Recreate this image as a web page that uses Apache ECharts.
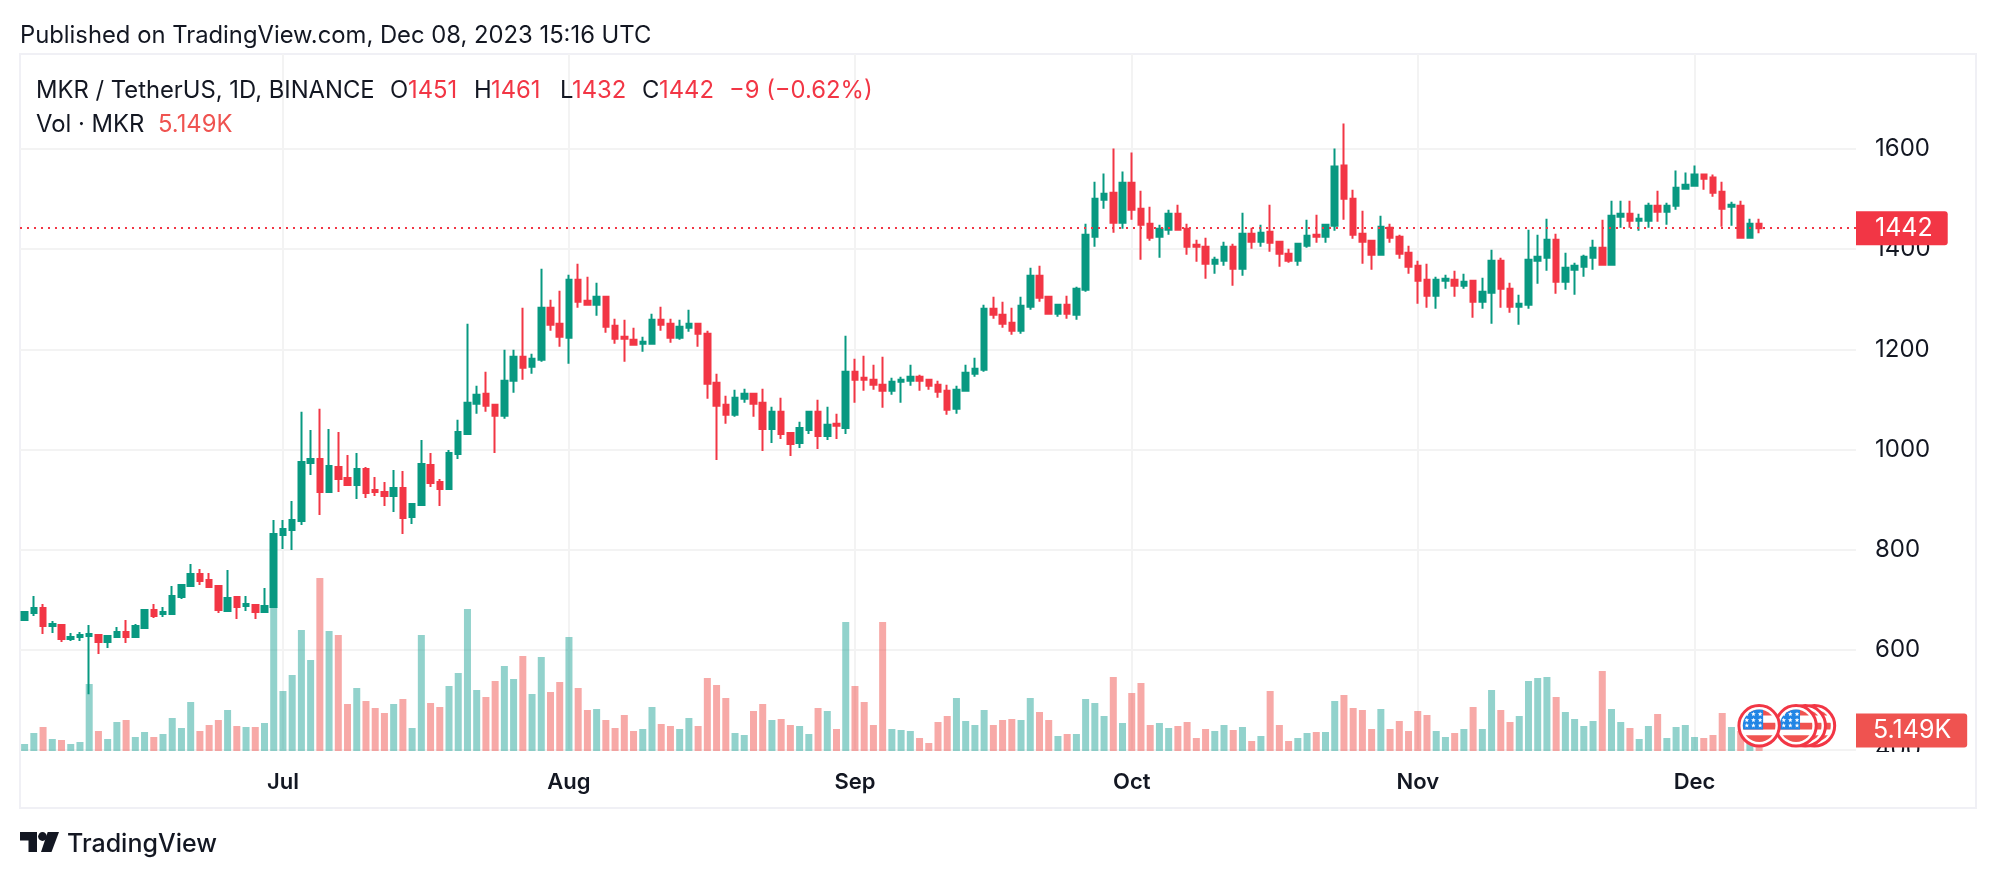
<!DOCTYPE html>
<html>
<head>
<meta charset="utf-8">
<title>MKR / TetherUS</title>
<script src="https://cdn.jsdelivr.net/npm/echarts@6/dist/echarts.min.js"></script>
<style>
  html, body { margin: 0; padding: 0; background: #fff; }
  #chart { width: 1996px; height: 878px; }
</style>
</head>
<body>
<div id="chart"></div>
<script>
// daily candles, Jun 3 -> Dec 8 2023
var opens = [
  659,673,683,647,649,621,625,627,629,615, 625,635,625,643,679,671,671,705,727,751,
  739,727,677,705,687,689,675,685,829,839, 857,973,981,915,965,943,929,961,919,915,
  907,923,865,889,969,935,921,991,1031,1091, 1111,1089,1067,1137,1185,1165,1179,1283,1251,1223,
  1339,1297,1289,1305,1247,1225,1219,1211,1211,1259, 1251,1223,1243,1251,1231,1133,1089,1069,1101,1111,
  1093,1041,1075,1033,1013,1039,1075,1027,1051,1043, 1155,1143,1139,1129,1117,1135,1137,1145,1139,1129,
  1117,1081,1117,1151,1159,1281,1269,1253,1237,1285, 1347,1305,1271,1289,1269,1319,1425,1499,1513,1453,
  1533,1481,1451,1425,1439,1471,1441,1409,1405,1371, 1377,1405,1361,1431,1415,1435,1415,1391,1377,1407,
  1429,1425,1447,1567,1501,1431,1417,1389,1443,1425, 1393,1367,1339,1307,1337,1339,1327,1337,1295,1313,
  1377,1321,1285,1289,1377,1383,1419,1335,1359,1365, 1383,1403,1369,1465,1471,1457,1457,1487,1475,1487,
  1521,1527,1549,1543,1515,1485,1487,1423,1451
];
var closes = [
  675,683,647,651,621,625,629,631,615,627, 635,625,647,679,667,675,707,729,751,737,
  725,679,703,685,691,675,687,831,841,859, 975,981,915,967,941,929,961,913,915,907,
  923,863,891,971,933,921,993,1035,1093,1109, 1087,1067,1137,1185,1163,1181,1283,1249,1225,1339,
  1295,1289,1305,1245,1221,1221,1209,1215,1259,1249, 1223,1245,1251,1231,1131,1087,1069,1103,1111,1091,
  1041,1075,1031,1011,1043,1075,1027,1049,1047,1155, 1139,1139,1129,1117,1135,1139,1145,1137,1127,1115,
  1079,1119,1153,1161,1281,1269,1251,1237,1287,1347, 1303,1271,1289,1271,1321,1429,1501,1511,1453,1533,
  1479,1449,1423,1441,1471,1439,1405,1405,1371,1379, 1405,1361,1431,1415,1433,1413,1391,1377,1411,1427,
  1425,1449,1565,1501,1429,1415,1389,1445,1423,1391, 1365,1337,1307,1339,1341,1327,1335,1295,1315,1377,
  1321,1285,1291,1379,1385,1419,1335,1363,1367,1385, 1403,1369,1467,1471,1457,1461,1487,1475,1487,1523,
  1529,1549,1541,1513,1481,1489,1423,1451,1442
];
var lows = [
  657,667,631,633,615,617,617,511,591,603, 625,613,625,643,663,665,669,701,725,729,
  723,673,677,661,677,661,673,683,801,799, 849,949,869,913,915,927,901,903,907,887,
  875,831,851,889,925,887,921,981,1031,1071, 1075,993,1061,1113,1139,1151,1175,1237,1205,1171,
  1283,1287,1267,1233,1211,1175,1209,1195,1209,1237, 1213,1219,1235,1205,1101,979,1051,1065,1093,1065,
  997,1013,1021,987,1003,1031,1001,1019,1021,1031, 1093,1117,1119,1083,1109,1093,1127,1117,1119,1103,
  1069,1071,1115,1145,1155,1261,1243,1229,1231,1279, 1295,1269,1265,1261,1259,1315,1405,1481,1433,1441,
  1459,1379,1417,1383,1429,1437,1389,1375,1341,1351, 1367,1327,1347,1401,1405,1395,1365,1373,1367,1403,
  1413,1413,1437,1459,1421,1371,1359,1389,1413,1381, 1351,1291,1283,1281,1321,1305,1321,1263,1281,1251,
  1283,1273,1249,1281,1331,1357,1311,1319,1309,1345, 1359,1369,1367,1443,1443,1437,1443,1455,1449,1479,
  1519,1525,1519,1505,1445,1447,1421,1421,1432
];
var highs = [
  677,707,691,657,649,633,635,649,629,629, 645,659,651,681,691,685,727,731,771,761,
  753,727,759,707,707,689,723,859,859,897, 1075,1039,1081,1041,1035,989,993,965,945,935,
  959,957,891,1019,993,941,999,1059,1251,1127, 1155,1089,1199,1199,1283,1191,1361,1299,1317,1349,
  1371,1345,1333,1307,1261,1259,1243,1225,1271,1285, 1261,1259,1279,1251,1237,1151,1107,1119,1121,1111,
  1121,1085,1103,1033,1055,1077,1099,1085,1071,1227, 1181,1187,1169,1185,1143,1145,1169,1149,1141,1137,
  1129,1127,1169,1183,1289,1305,1295,1283,1305,1363, 1367,1307,1291,1307,1325,1451,1535,1551,1601,1555,
  1593,1517,1485,1449,1479,1489,1451,1419,1423,1385, 1415,1411,1473,1443,1449,1489,1415,1401,1411,1459,
  1469,1451,1601,1651,1519,1477,1417,1467,1451,1429, 1407,1377,1371,1345,1349,1357,1351,1339,1343,1399,
  1383,1333,1309,1439,1429,1461,1431,1393,1373,1389, 1419,1459,1497,1497,1497,1471,1493,1517,1493,1557,
  1553,1567,1549,1549,1535,1495,1497,1461,1461
];
// volume in thousands of MKR
var volumes = [
  1.75,4.5,6,3,2.75,1.75,2.25,16.75,5,3, 7.25,7.75,3.5,4.75,3.5,4.25,8.25,5.75,12.25,5,
  6.5,7.75,10.25,6.25,6,6,7,36,15,19, 30.25,22.75,43.25,30,29,11.75,15.75,12.5,10.75,9.5,
  11.75,13,5.75,29,12,11,16.25,19.5,35.5,15.25, 13.5,17.5,21.25,18,23.75,14.25,23.5,14.75,17.25,28.5,
  15.75,10.25,10.5,7.75,5.75,9,5,5.5,11,6.75, 6.25,5.5,8.25,6.25,18.25,16.5,13.25,4.5,4,10,
  11.75,7.75,8,6.5,6.25,4.25,10.75,10,5.5,32.25, 16.25,12.25,6.5,32.25,5.5,5.25,5,3.25,2,7.25,
  8.75,13.25,7.5,6.5,10.25,6.5,7.75,8,7.75,13.25, 9.75,7.75,3.75,4.25,4.25,13,12,8.75,18.5,7,
  14.5,17,6.5,7,5.75,6.25,7.25,3.25,5.5,5, 6.5,5.25,6,2.5,3.75,15,6.5,2.5,3.25,4.5,
  4.75,4.75,12.5,14,10.75,10.25,5.5,10.5,5.5,7.5, 5,10,9,5,3.5,4.5,5.5,11,5.5,15.25,
  10.25,7.25,8.75,17.5,18.25,18.5,13.5,9.75,8,6.25, 7.5,20,10.5,7.25,5.75,3,6.25,9.25,3.25,6,
  6.5,3.5,3.25,4,9.5,6,5,2.5,5.149
];
var monthStarts = [28, 59, 90, 120, 151, 181];
var monthLabels = ['Jul', 'Aug', 'Sep', 'Oct', 'Nov', 'Dec'];
var priceTicks = { min: 400, step: 200 };
var lastPrice = 1442;
var lastVolume = 5.149;
var eventDays = [194, 193, 192, 188]; // back to front

var upColor = '#089981', downColor = '#F23645';
var upVol = 'rgba(38,166,154,0.5)', downVol = 'rgba(239,83,80,0.5)';
var gridColor = '#f3f3f3', frameColor = '#f0f0f5', textColor = '#131722';
var fontName = 'Inter, "Noto Sans", sans-serif';

// 199 slots: the traded days plus the empty stretch on the right
var categories = [];
for (var d = 0; d < 199; d++) {
  categories.push(new Date(Date.UTC(2023, 5, 3 + d)).toISOString().slice(0, 10));
}
var candles = opens.map(function (o, i) { return [o, closes[i], lows[i], highs[i]]; });

// legend text, placed piece by piece
var legendRow1 = [
  ['MKR / TetherUS, 1D, BINANCE', 36, textColor], ['O', 390, textColor], ['1451', 408, downColor],
  ['H', 474, textColor], ['1461', 491, downColor], ['L', 560, textColor], ['1432', 572, downColor],
  ['C', 642, textColor], ['1442', 659, downColor], ['\u22129 (\u22120.62%)', 729, downColor]
];
var legendRow2 = [['Vol \u00b7 MKR', 36, textColor], ['5.149K', 158, '#EF5350']];

function label(text, x, y, color, size, weight) {
  return {
    type: 'text', silent: true, z: 6,
    style: { x: x, y: y, text: text, fill: color, font: (weight || 400) + ' ' + size + 'px ' + fontName, verticalAlign: 'middle', align: 'left' }
  };
}

var graphics = [
  { type: 'rect', silent: true, z: -1, shape: { x: 20, y: 54, width: 1956, height: 754 }, style: { fill: 'none', stroke: frameColor, lineWidth: 2 } },
  // hides what would stick out under the pane of the half covered 400 label
  { type: 'rect', silent: true, z: 1, shape: { x: 1858, y: 752, width: 110, height: 20 }, style: { fill: '#fff' } },
  label('Published on TradingView.com, Dec 08, 2023 15:16 UTC', 20, 36, textColor, 23.8),
  label('TradingView', 67, 844, textColor, 25, 500),
  // logo
  { type: 'polygon', silent: true, shape: { points: [[20, 832], [37, 832], [37, 852], [28.5, 852], [28.5, 840.5], [20, 840.5]] }, style: { fill: textColor } },
  { type: 'circle', silent: true, shape: { cx: 42.5, cy: 836.5, r: 4.4 }, style: { fill: textColor } },
  { type: 'polygon', silent: true, shape: { points: [[47.7, 832], [59, 832], [51.5, 852], [41, 852]] }, style: { fill: textColor } }
];
legendRow1.forEach(function (p) { graphics.push(label(p[0], p[1], 91, p[2], 23.8)); });
legendRow2.forEach(function (p) { graphics.push(label(p[0], p[1], 125, p[2], 23.8)); });

function starPoints(cx, cy, r) {
  var pts = [];
  for (var k = 0; k < 10; k++) {
    var rr = k % 2 ? r * 0.45 : r, a = -Math.PI / 2 + k * Math.PI / 5;
    pts.push([cx + rr * Math.cos(a), cy + rr * Math.sin(a)]);
  }
  return pts;
}

// US flag event marker
function renderFlag(params, api) {
  var c = api.coord([api.value(0), api.value(1)]);
  var cx = c[0], cy = c[1];
  var clip = { type: 'circle', shape: { cx: cx, cy: cy, r: 16.3 } };
  var kids = [
    { type: 'circle', shape: { cx: cx, cy: cy, r: 20.2 }, style: { fill: '#fff', stroke: '#F23645', lineWidth: 3 } }
  ];
  [[-16.3, 6], [-3, 6.7], [9.5, 7]].forEach(function (s) {
    kids.push({ type: 'rect', clipPath: clip, shape: { x: cx - 17, y: cy + s[0], width: 34, height: s[1] }, style: { fill: '#F05350' } });
  });
  kids.push({ type: 'rect', clipPath: clip, shape: { x: cx - 17, y: cy - 17, width: 21, height: 20.7 }, style: { fill: '#2185E5' } });
  [-12.3, -5.7, 1].forEach(function (sx) {
    [-11.7, -5.7, -0.3].forEach(function (sy) {
      kids.push({ type: 'polygon', shape: { points: starPoints(cx + sx, cy + sy, 2.4) }, style: { fill: '#fff' } });
    });
  });
  return { type: 'group', children: kids };
}

var chart = echarts.init(document.getElementById('chart'));
var option = {
  animation: false,
  backgroundColor: '#fff',
  textStyle: { fontFamily: fontName },
  graphic: { elements: graphics },
  grid: [
    { left: 20, width: 1836, top: 54, bottom: 128.3 },
    { left: 20, width: 1836, top: 54, bottom: 127 }
  ],
  xAxis: [
    { type: 'category', gridIndex: 0, data: categories, axisLine: { show: false }, axisTick: { show: false }, axisLabel: { show: false }, splitLine: { show: false } },
    {
      type: 'category', gridIndex: 1, data: categories,
      axisLine: { show: false }, axisTick: { show: false },
      axisLabel: {
        color: textColor, fontSize: 22, fontWeight: 600, margin: 20, fontFamily: fontName,
        interval: function (i) { return monthStarts.indexOf(i) >= 0; },
        formatter: function (v, i) { return monthLabels[monthStarts.indexOf(i)] || ''; }
      },
      splitLine: {
        show: true, alignWithLabel: true,
        interval: function (i) { return monthStarts.indexOf(i) >= 0; },
        lineStyle: { color: gridColor, width: 2 }
      }
    }
  ],
  yAxis: [
    {
      type: 'value', gridIndex: 0, position: 'right', min: priceTicks.min, max: 1790, interval: priceTicks.step,
      axisLine: { show: false }, axisTick: { show: false },
      axisLabel: {
        color: textColor, fontSize: 24, margin: 19, showMaxLabel: false, fontFamily: fontName, padding: [5, 0, 0, 0],
        formatter: function (v) { return String(v); }
      },
      splitLine: { show: true, showMaxLine: false, lineStyle: { color: gridColor, width: 2 } }
    },
    { type: 'value', gridIndex: 1, min: 0, max: 174.25, show: false }
  ],
  series: [
    {
      type: 'bar', name: 'Vol', xAxisIndex: 1, yAxisIndex: 1, z: 1, barWidth: 7, data: volumes,
      itemStyle: {
        color: function (p) { return closes[p.dataIndex] >= opens[p.dataIndex] ? upVol : downVol; }
      },
      markLine: {
        silent: true, symbol: 'none', animation: false,
        lineStyle: { color: 'rgba(0,0,0,0)', width: 1 },
        label: {
          show: true, position: 'end', distance: 0, formatter: '5.149K', color: '#fff', fontSize: 25, fontFamily: fontName,
          backgroundColor: '#EF5350', padding: [4, 16, 5, 17], borderRadius: [0, 3, 3, 0]
        },
        data: [{ yAxis: lastVolume }]
      }
    },
    {
      type: 'line', name: 'last', xAxisIndex: 0, yAxisIndex: 0, z: 2, data: [], showSymbol: false,
      markLine: {
        silent: true, symbol: 'none', animation: false,
        lineStyle: { color: downColor, type: [2, 5], width: 2 },
        label: {
          position: 'end', distance: 0, formatter: '1442', color: '#fff', fontSize: 25, fontFamily: fontName,
          backgroundColor: downColor, padding: [4, 15, 5, 19], borderRadius: [0, 3, 3, 0]
        },
        data: [{ yAxis: lastPrice }]
      }
    },
    {
      type: 'candlestick', name: 'MKR', xAxisIndex: 0, yAxisIndex: 0, z: 3, barWidth: 6, data: candles,
      itemStyle: { color: upColor, color0: downColor, borderColor: upColor, borderColor0: downColor, borderWidth: 2 }
    },
    {
      type: 'custom', name: 'events', xAxisIndex: 1, yAxisIndex: 1, z: 4, clip: false, silent: true,
      renderItem: renderFlag,
      data: eventDays.map(function (i) { return [i, 6.3]; })
    }
  ]
};
chart.setOption(option);
</script>
</body>
</html>
